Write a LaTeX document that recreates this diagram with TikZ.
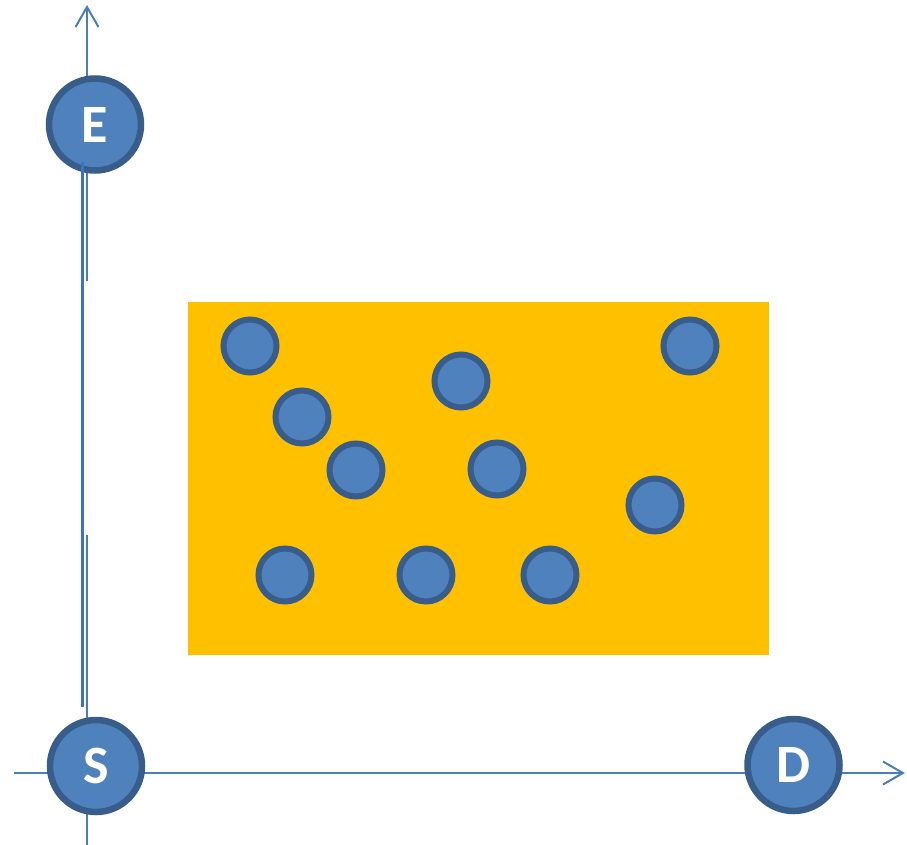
\documentclass[tikz,border=0pt]{standalone}
\usepackage{fontspec}
\setmainfont{Carlito}
\usetikzlibrary{arrows.meta}
\definecolor{nodeblue}{HTML}{4F81BD}
\definecolor{nodeedge}{HTML}{385D8A}
\definecolor{axisblue}{HTML}{4A7EBB}
\definecolor{linkblue}{HTML}{3A73C0}
\definecolor{areaorange}{HTML}{FFC000}
\tikzset{
  bignode/.style={circle,fill=nodeblue,draw=nodeedge,line width=6.5pt,minimum size=92pt,inner sep=0pt,text=white,font=\fontsize{54}{54}\selectfont\bfseries},
  smallnode/.style={circle,fill=nodeblue,draw=nodeedge,line width=6pt,minimum size=53pt,inner sep=0pt},
  axisline/.style={axisblue,line width=2pt},
  barb/.style={-{Straight Barb[length=20pt,width=23pt]}},
}
\begin{document}
\begin{tikzpicture}[x=1pt,y=-1pt]
		\useasboundingbox (0,0) rectangle (907,845);
		\fill[areaorange] (188,302) rectangle (769,655);

		% axes
		\draw[axisline] (87,845) -- (87,535);
		\draw[axisline,barb] (87,281) -- (87,5);
		\draw[axisline,barb] (14,773) -- (905,773);

		\node[bignode] (E) at (95,124.5) {E};
		\node[bignode] (S) at (96,766) {S};
		\node[bignode] (D) at (793.5,765) {D};

		\draw[linkblue,line width=3pt] ([shift={(-13,38)}]E.center) -- ([shift={(-14,-10)}]S.north);

	    \foreach \x/\y [count=\i] in {250/346,302/417,356/470,461/381,497/469,690/346,655/505,285/575,426/575,550/575}
	    	\node[smallnode] (n\i) at (\x,\y) {};
\end{tikzpicture}
\end{document}
